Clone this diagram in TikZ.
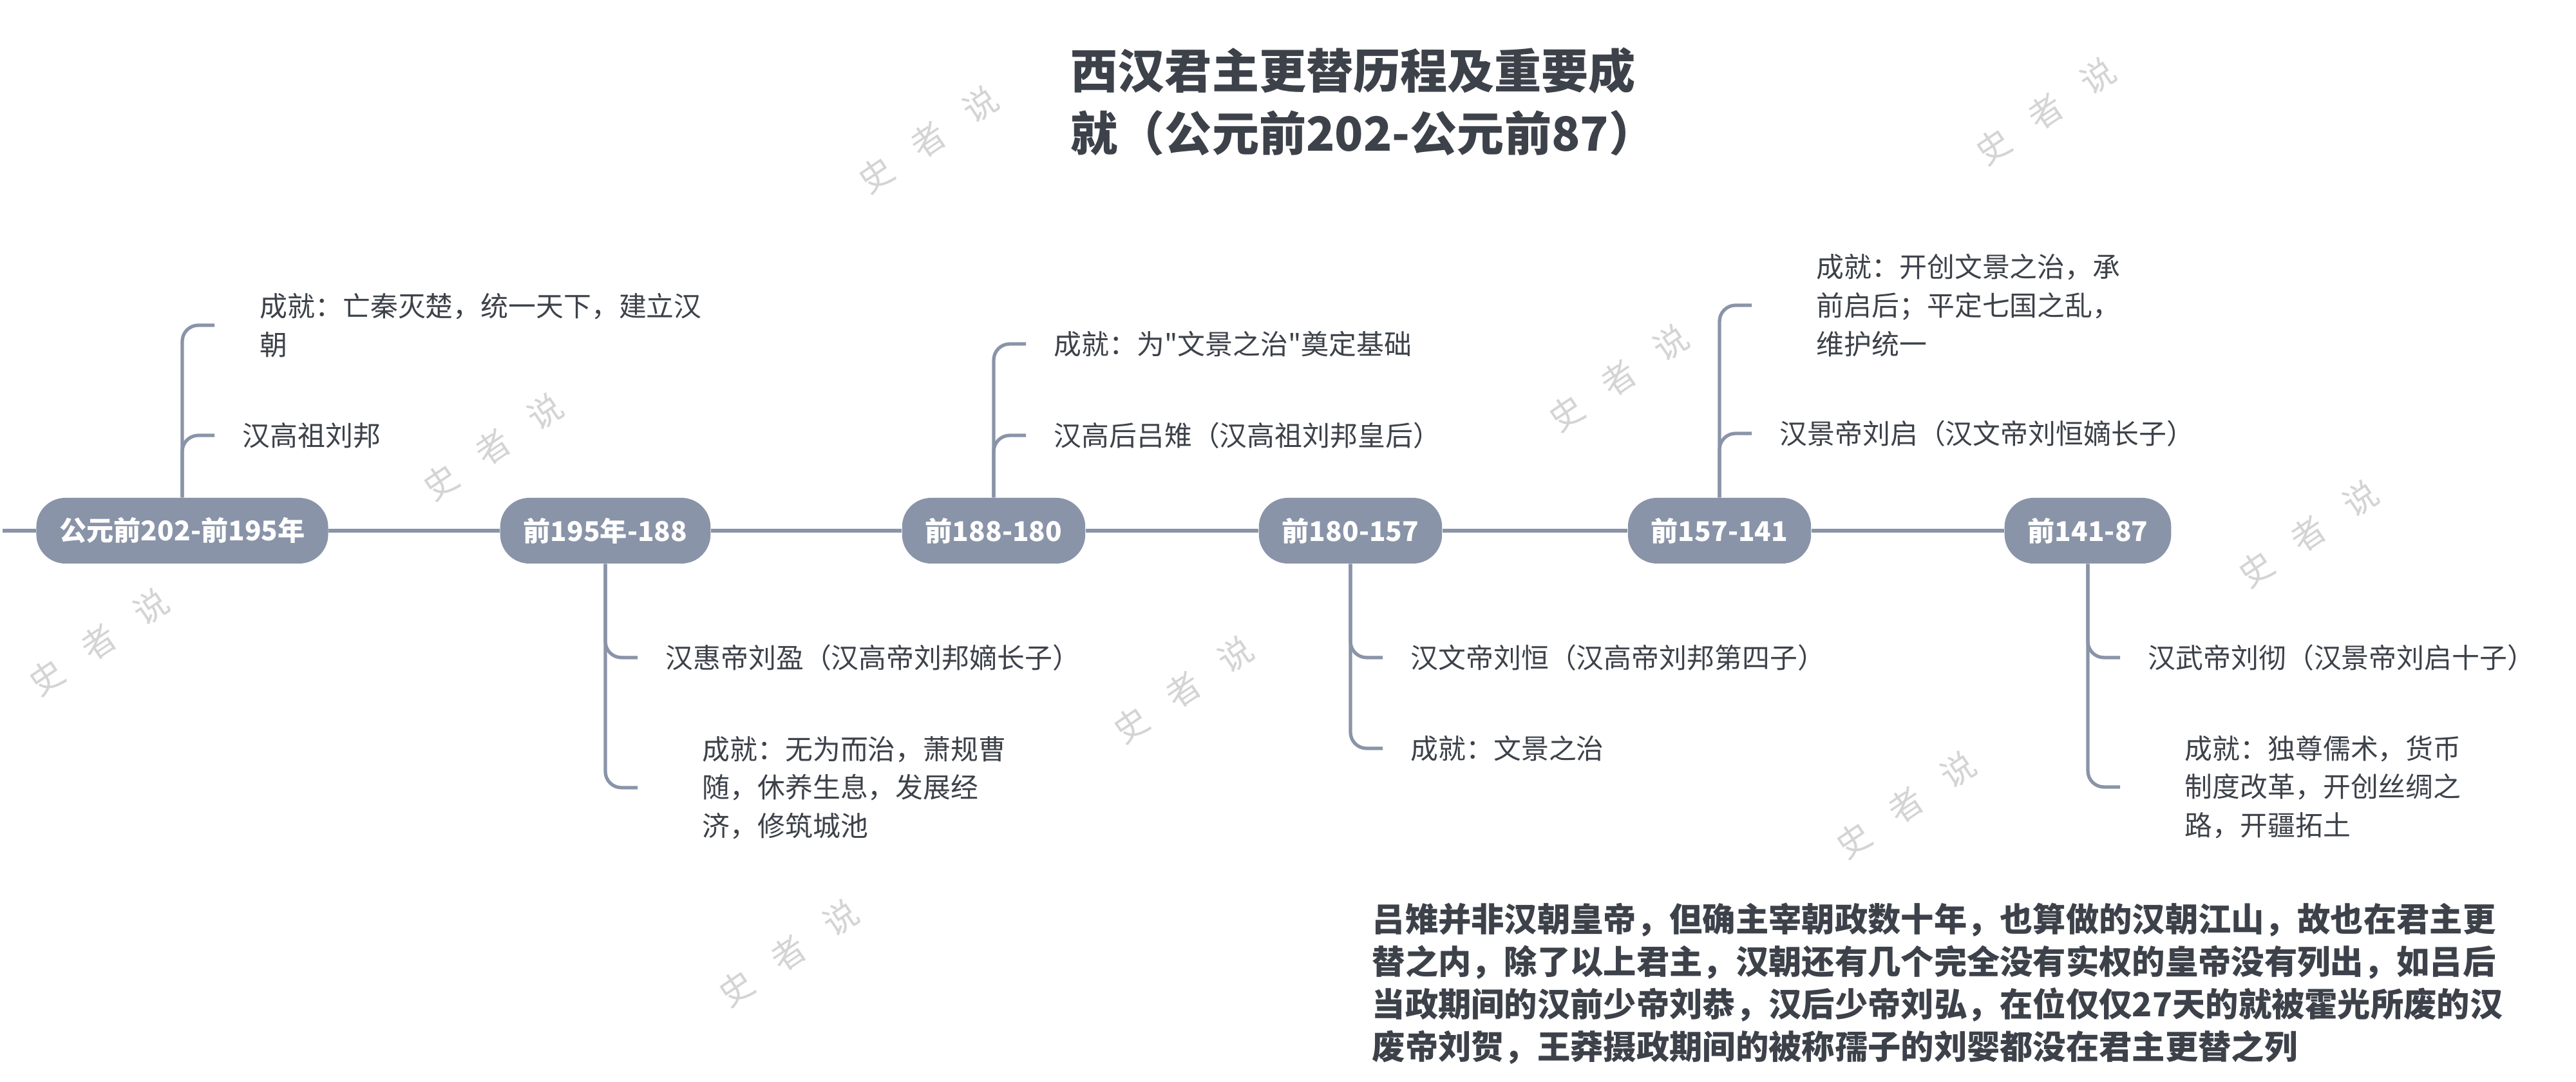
\documentclass[tikz,border=0pt]{standalone}
\usepackage{fontspec}
\setmainfont{Noto Sans CJK SC}[Ligatures = TeXOff]
\usetikzlibrary{positioning}
\definecolor{slate}{HTML}{8A94A8}
\definecolor{ink}{HTML}{3D424A}
\tikzset{
	timeline/.cd,
	trunk/.style = {
		draw = slate,
		line width = 1.6pt
	},
	branch/.style = {
		draw = slate,
		line width = 1.5pt,
		rounded corners = 0.25cm
	},
}

\begin{document}
\begin{tikzpicture}[
		period/.style = {
			fill = slate,
			text = white,
			font = \bfseries\fontsize{12}{14}\selectfont,
			rounded corners = 0.45cm,
			minimum height = 1.02cm,
			inner xsep = 0.36cm
		},
		leaf/.style = {
			anchor = west,
			text = ink,
			font = \fontsize{12.2}{17}\selectfont,
			align = left,
			inner ysep = 0pt,
			inner xsep = 0.43cm
		},
		midleaf/.style = {
			leaf,
			inner xsep = 0.7cm
		},
		wideleaf/.style = {
			leaf,
			inner xsep = 1cm
		},
		watermark/.style = {
			text = black!17,
			font = \fontsize{15}{15}\selectfont,
			rotate = 34
		}]
		\def\ymid{8.56}
		\useasboundingbox (0, 0) rectangle (40, 16.8);
		\foreach \x/\y [count = \i] in {14.41/14.63, 31.76/15.07, 7.65/9.86, 25.13/10.93, 35.84/8.51, 1.53/6.83, 18.37/6.09, 29.59/4.30, 12.24/2.00}{
			\node[watermark] (wm\i) at (\x, \y) {史\hspace{0.45cm}者\hspace{0.45cm}说};
		}
		\node[anchor = west, align = left, text = ink, inner sep = 0pt, font = \bfseries\fontsize{20.8}{27.5}\selectfont] (title) at (16.62, 15.22) {西汉君主更替历程及重要成\\就（公元前202-公元前87）};
		\coordinate (start) at (0.04, \ymid);
		\foreach \x/\lbl [count = \i] in {2.83/公元前202-前195年, 9.40/前195年-188, 15.43/前188-180, 20.97/前180-157, 26.70/前157-141, 32.42/前141-87}{
			\node[period] (p\i) at (\x, \ymid) {\lbl};
		}
		\draw[timeline/trunk] (start) -- (p1);
		\foreach \i [evaluate = \i as \j using int(\i + 1)] in {1, ..., 5}{
			\draw[timeline/trunk] (p\i) -- (p\j);
		}
		\foreach \p/\k/\dy/\s/\txt in {
				1/a/3.19/midleaf/{成就：亡秦灭楚，统一天下，建立汉\\朝},
				1/b/1.48/leaf/{汉高祖刘邦},
				2/a/-1.97/leaf/{汉惠帝刘盈（汉高帝刘邦嫡长子）},
				2/b/-3.99/wideleaf/{成就：无为而治，萧规曹\\随，休养生息，发展经\\济，修筑城池},
				3/a/2.90/leaf/{成就：为"文景之治"奠定基础},
				3/b/1.48/leaf/{汉高后吕雉（汉高祖刘邦皇后）},
				4/a/-1.97/leaf/{汉文帝刘恒（汉高帝刘邦第四子）},
				4/b/-3.38/leaf/{成就：文景之治},
				5/a/3.50/wideleaf/{成就：开创文景之治，承\\前启后；平定七国之乱，\\维护统一},
				5/b/1.51/leaf/{汉景帝刘启（汉文帝刘恒嫡长子）},
				6/a/-1.97/leaf/{汉武帝刘彻（汉景帝刘启十子）},
				6/b/-3.98/wideleaf/{成就：独尊儒术，货币\\制度改革，开创丝绸之\\路，开疆拓土}}{
			\node[\s] (c\p\k) at ([shift = {(0.5, \dy)}]p\p.center) {\txt};
			\draw[timeline/branch] (p\p) |- (c\p\k.west);
		}
		\node[anchor = west, align = left, text = ink, inner sep = 0pt, font = \bfseries\fontsize{14.6}{18.8}\selectfont] (remark) at (21.30, 1.53) {吕雉并非汉朝皇帝，但确主宰朝政数十年，也算做的汉朝江山，故也在君主更\\替之内，除了以上君主，汉朝还有几个完全没有实权的皇帝没有列出，如吕后\\当政期间的汉前少帝刘恭，汉后少帝刘弘，在位仅仅27天的就被霍光所废的汉\\废帝刘贺，王莽摄政期间的被称孺子的刘婴都没在君主更替之列};
	\end{tikzpicture}
\end{document}
